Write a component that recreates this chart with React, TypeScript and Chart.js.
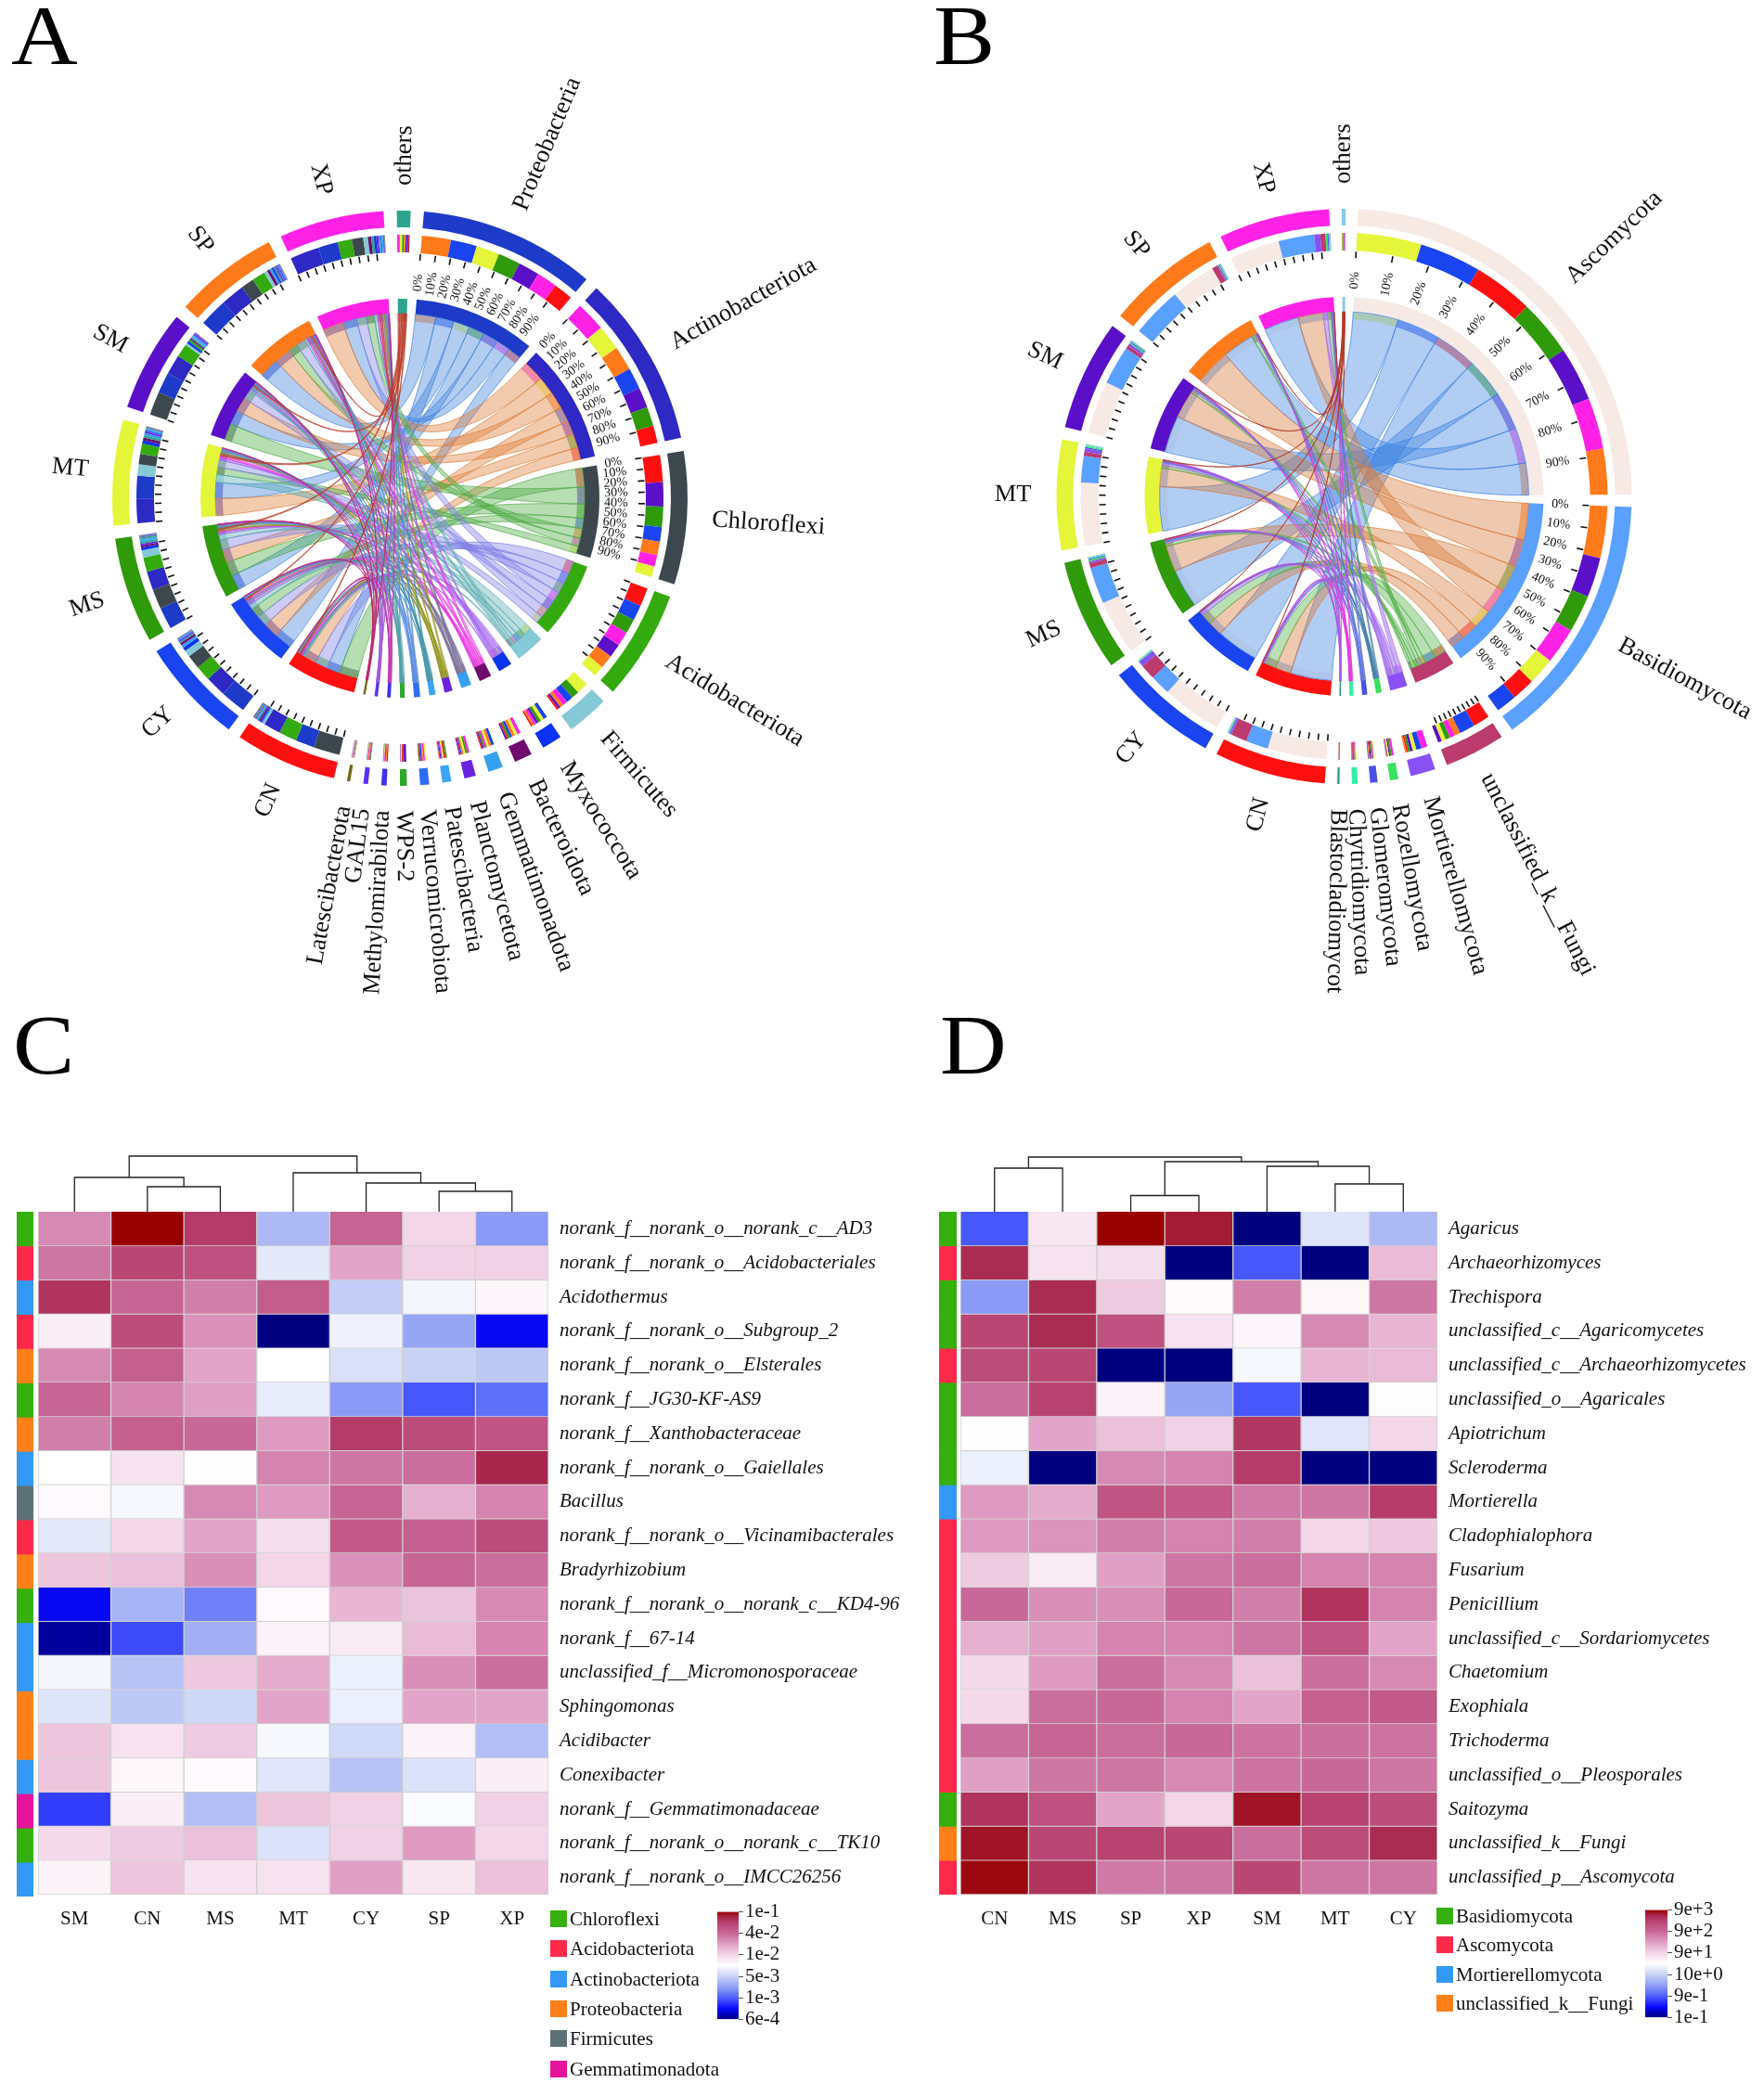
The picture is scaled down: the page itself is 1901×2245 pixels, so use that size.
import React, { useEffect, useRef } from "react";
import { Chart, registerables } from "chart.js";

Chart.register(...registerables);

const SERIF = "'Liberation Serif', serif";

// ---------- Panel A data ----------
const samples = ["CN", "CY", "MS", "MT", "SM", "SP", "XP"];
const sampleColors = ["#ff1010", "#1a44f0", "#2f9a0a", "#e4f53a", "#5a0fc8", "#ff7a1a", "#ff22e6"];

const phylaA = ["Proteobacteria", "Actinobacteriota", "Chloroflexi", "Acidobacteriota", "Firmicutes", "Myxococcota", "Bacteroidota", "Gemmatimonadota", "Planctomycetota", "Patescibacteria", "Verrucomicrobiota", "WPS-2", "Methylomirabilota", "GAL15", "Latescibacterota", "others"];
const phylaColorsA = ["#1e3ac8", "#2e28c4", "#3c484e", "#33aa0e", "#85c8d6", "#0a32f0", "#6e0a6e", "#35a0f0", "#6a24e0", "#3aa4f5", "#2f6cf5", "#2da829", "#4030f0", "#5a30f0", "#6e6a18", "#2da58e"];
const ribbonsA = ["66,130,220", "222,125,55", "75,170,65", "125,125,230", "85,170,175", "165,105,240", "235,55,225", "120,110,150", "150,150,30", "70,150,170", "90,140,225", "80,160,170", "190,60,180", "160,90,220", "190,40,110", "185,60,40"];
const abundanceA = [
  [20, 27, 23, 24, 22, 30, 21],
  [18, 22, 20, 26, 21, 25, 31],
  [28, 15, 21, 11, 25, 14, 12],
  [19, 16, 15, 11, 14, 14, 15],
  [2, 7, 8, 12, 2.5, 3.5, 5],
  [1.5, 4, 3, 3.5, 2.5, 2, 2.5],
  [1.5, 2.5, 2, 3, 1.5, 3, 3.5],
  [1.1, 3, 1.7, 2.3, 1.4, 2.5, 2],
  [1, 1.3, 2, 2, 0.9, 1.5, 2.3],
  [1.6, 0.8, 1.8, 1.4, 1, 0.7, 1.2],
  [0.8, 1.3, 0.7, 1.8, 1, 1.4, 1.5],
  [1, 0.3, 1.2, 0.7, 2.5, 0.4, 0.4],
  [1.3, 0.3, 0.4, 0.5, 0.8, 1, 0.7],
  [0.6, 0.4, 0.8, 0.6, 0.7, 0.7, 0.7],
  [0.5, 0.3, 0.5, 0.4, 0.5, 0.4, 0.4],
  [1.2, 1.4, 1.9, 2.5, 1.5, 1.7, 2.8],
];
const labeledA = ["Proteobacteria", "Actinobacteriota", "Chloroflexi"];
const tickedA = ["Acidobacteriota"];

// ---------- Panel B data ----------
const phylaB = ["Ascomycota", "Basidiomycota", "unclassified_k__Fungi", "Mortierellomycota", "Rozellomycota", "Glomeromycota", "Chytridiomycota", "Blastocladiomycot", "others"];
const phylaColorsB = ["#f7e9e4", "#5aa0ff", "#bb3b6e", "#8850f5", "#38e060", "#4a50e8", "#30f0a0", "#2a9080", "#88c8e8"];
const ribbonsB = ["60,130,225", "215,120,55", "80,175,70", "165,115,240", "70,130,170", "100,120,225", "225,60,225", "170,90,220", "175,55,40"];
const abundanceB = [
  [58, 59, 54, 62, 52, 44, 49],
  [22, 20, 36, 26, 38, 50, 35],
  [16, 15, 4.5, 4, 3.5, 5.5, 5],
  [1.5, 5, 2, 3.5, 2.5, 1.5, 6],
  [0.5, 0.5, 1.5, 1, 1.2, 0.7, 2],
  [0.8, 0.6, 1, 1.2, 1, 0.7, 1.2],
  [0.5, 0.5, 0.8, 1, 0.8, 0.5, 0.9],
  [0.3, 0.2, 0.3, 0.2, 0.3, 0.2, 0.3],
  [0.5, 0.4, 0.6, 0.6, 0.5, 0.4, 0.5],
];
const labeledB = ["Ascomycota", "Basidiomycota"];
const tickedB = ["unclassified_k__Fungi"];
const tickPercent = [0, 10, 20, 30, 40, 50, 60, 70, 80, 90];

// ---------- Panel C data ----------
const colsC = ["SM", "CN", "MS", "MT", "CY", "SP", "XP"];
const rowsC = ["norank_f__norank_o__norank_c__AD3", "norank_f__norank_o__Acidobacteriales", "Acidothermus", "norank_f__norank_o__Subgroup_2", "norank_f__norank_o__Elsterales", "norank_f__JG30-KF-AS9", "norank_f__Xanthobacteraceae", "norank_f__norank_o__Gaiellales", "Bacillus", "norank_f__norank_o__Vicinamibacterales", "Bradyrhizobium", "norank_f__norank_o__norank_c__KD4-96", "norank_f__67-14", "unclassified_f__Micromonosporaceae", "Sphingomonas", "Acidibacter", "Conexibacter", "norank_f__Gemmatimonadaceae", "norank_f__norank_o__norank_c__TK10", "norank_f__norank_o__IMCC26256"];
const levelsC = [
  [48, 100, 82, -30, 62, 20, -42],
  [55, 78, 72, -10, 38, 22, 22],
  [85, 62, 52, 66, -22, -4, 5],
  [8, 75, 45, -100, -6, -38, -82],
  [48, 65, 38, 0, -14, -20, -24],
  [62, 50, 40, -8, -42, -62, -55],
  [52, 65, 60, 42, 82, 75, 70],
  [0, 14, 1, 50, 55, 58, 90],
  [3, -3, 48, 42, 62, 34, 50],
  [-10, 20, 38, 16, 68, 64, 75],
  [26, 28, 46, 20, 45, 62, 58],
  [-82, -32, -50, 3, 32, 27, 48],
  [-95, -65, -34, 6, 10, 30, 50],
  [-4, -26, 25, 36, -7, 46, 58],
  [-12, -24, -18, 38, -7, 38, 38],
  [26, 14, 24, -3, -17, 6, -28],
  [26, 4, 3, -11, -26, -13, 8],
  [-68, 8, -28, 26, 22, -2, 22],
  [18, 24, 28, -13, 22, 42, 20],
  [6, 26, 14, 14, 40, 12, 28],
];
const groupsC = ["Chloroflexi", "Acidobacteriota", "Actinobacteriota", "Acidobacteriota", "Proteobacteria", "Chloroflexi", "Proteobacteria", "Actinobacteriota", "Firmicutes", "Acidobacteriota", "Proteobacteria", "Chloroflexi", "Actinobacteriota", "Actinobacteriota", "Proteobacteria", "Proteobacteria", "Actinobacteriota", "Gemmatimonadota", "Chloroflexi", "Actinobacteriota"];
const legendC = ["Chloroflexi", "Acidobacteriota", "Actinobacteriota", "Proteobacteria", "Firmicutes", "Gemmatimonadota"];
const barTicksC = ["1e-1", "4e-2", "1e-2", "5e-3", "1e-3", "6e-4"];
const dendroC: [number | string, number | string, number][] = [
  [5, 6, 22], [4, "n0", 31], [3, "n1", 42], [1, 2, 27], [0, "n3", 37], ["n4", "n2", 60],
];

// ---------- Panel D data ----------
const colsD = ["CN", "MS", "SP", "XP", "SM", "MT", "CY"];
const rowsD = ["Agaricus", "Archaeorhizomyces", "Trechispora", "unclassified_c__Agaricomycetes", "unclassified_c__Archaeorhizomycetes", "unclassified_o__Agaricales", "Apiotrichum", "Scleroderma", "Mortierella", "Cladophialophora", "Fusarium", "Penicillium", "unclassified_c__Sordariomycetes", "Chaetomium", "Exophiala", "Trichoderma", "unclassified_o__Pleosporales", "Saitozyma", "unclassified_k__Fungi", "unclassified_p__Ascomycota"];
const levelsD = [
  [-62, 12, 100, 93, -100, -12, -30],
  [88, 14, 16, -100, -62, -100, 30],
  [-42, 88, 24, 2, 52, 4, 55],
  [78, 88, 72, 14, 5, 48, 32],
  [75, 78, -100, -100, -3, 32, 30],
  [58, 80, 6, -38, -62, -100, 1],
  [1, 38, 28, 22, 84, -11, 20],
  [-7, -100, 48, 50, 82, -100, -100],
  [42, 36, 70, 68, 54, 55, 82],
  [42, 44, 52, 50, 52, 20, 25],
  [24, 10, 40, 55, 58, 50, 50],
  [60, 46, 46, 60, 52, 85, 50],
  [34, 40, 50, 50, 55, 70, 38],
  [18, 42, 58, 48, 28, 58, 48],
  [18, 58, 60, 50, 38, 65, 68],
  [58, 62, 58, 60, 56, 58, 56],
  [40, 55, 55, 48, 56, 60, 55],
  [85, 72, 38, 20, 95, 80, 75],
  [95, 78, 80, 78, 58, 75, 88],
  [98, 85, 54, 55, 78, 55, 55],
];
const groupsD = ["Basidiomycota", "Ascomycota", "Basidiomycota", "Basidiomycota", "Ascomycota", "Basidiomycota", "Basidiomycota", "Basidiomycota", "Mortierellomycota", "Ascomycota", "Ascomycota", "Ascomycota", "Ascomycota", "Ascomycota", "Ascomycota", "Ascomycota", "Ascomycota", "Basidiomycota", "unclassified_k__Fungi", "Ascomycota"];
const legendD = ["Basidiomycota", "Ascomycota", "Mortierellomycota", "unclassified_k__Fungi"];
const barTicksD = ["9e+3", "9e+2", "9e+1", "10e+0", "9e-1", "1e-1"];
const dendroD: [number | string, number | string, number][] = [
  [0, 1, 47], [2, 3, 17.5], [5, 6, 30], [4, "n2", 49], ["n1", "n3", 54], ["n0", "n4", 59],
];

const groupColor: Record<string, string> = {
  Chloroflexi: "#35b00e", Acidobacteriota: "#ff2a4a", Actinobacteriota: "#3399f5", Proteobacteria: "#ff7f18",
  Firmicutes: "#5e7078", Gemmatimonadota: "#e6149a", Basidiomycota: "#35b00e", Ascomycota: "#ff2a4a",
  Mortierellomycota: "#3399f5", unclassified_k__Fungi: "#ff7f18",
};

const rampStops: [number, number[]][] = [
  [-100, [0, 0, 127]], [-90, [0, 0, 190]], [-80, [10, 10, 255]], [-60, [78, 96, 250]], [-40, [145, 160, 245]], [-20, [200, 210, 245]],
  [0, [255, 255, 255]], [20, [243, 214, 232]], [40, [224, 160, 197]], [60, [200, 104, 152]], [80, [184, 66, 112]], [90, [168, 38, 76]], [100, [153, 0, 0]],
];
function rampColor(v: number) {
  for (let i = 1; i < rampStops.length; i++) {
    const [a, ca] = rampStops[i - 1];
    const [b, cb] = rampStops[i];
    if (v <= b) {
      const t = (v - a) / (b - a);
      return `rgb(${ca.map((c, k) => Math.round(c + (cb[k] - c) * t)).join(",")})`;
    }
  }
  return "rgb(153,0,0)";
}

const CLEAR = "rgba(0,0,0,0)";
const sum = (a: number[]) => a.reduce((x, y) => x + y, 0);

function makeChord(canvas: HTMLCanvasElement, p: any) {
  const { phyla, phylaColors, ribbons, abundance, labeled, ticked, rotation, gapDeg, sampleScale } = p;
  type Seg = { value: number; partner: string; color: string; phylum: number; sample: number };
  type Sec = { name: string; color: string; segs: Seg[]; total: number };
  const mk = (i: number): Sec => {
    const segs = samples.map((s, j) => ({ value: abundance[i][j], partner: s, color: sampleColors[j], phylum: i, sample: j }))
      .sort((a, b) => b.value - a.value);
    return { name: phyla[i], color: phylaColors[i], segs, total: sum(abundance[i]) };
  };
  const secs: Sec[] = [];
  for (let i = 0; i < phyla.length - 1; i++) secs.push(mk(i));
  samples.forEach((s, j) => {
    const segs = phyla.map((n: string, i: number) => ({ value: abundance[i][j] * sampleScale, partner: n, color: phylaColors[i], phylum: i, sample: j }))
      .sort((a: Seg, b: Seg) => b.value - a.value);
    secs.push({ name: s, color: sampleColors[j], segs, total: sum(segs.map((x: Seg) => x.value)) });
  });
  secs.push(mk(phyla.length - 1));

  const grand = sum(secs.map((s) => s.total));
  const gap = (grand / (360 - secs.length * gapDeg)) * gapDeg;

  const outerData: number[] = [], outerBg: string[] = [];
  const compData: number[] = [], compBg: string[] = [], thinBg: string[] = [];
  const secRange: number[][] = [];
  const linkIdx: Record<string, number[]> = {};
  secs.forEach((s) => {
    outerData.push(s.total, gap);
    outerBg.push(s.color, CLEAR);
    const first = compData.length;
    s.segs.forEach((g) => {
      const key = g.phylum + "|" + g.sample;
      (linkIdx[key] = linkIdx[key] || []).push(compData.length);
      compData.push(g.value);
      compBg.push(g.color);
      thinBg.push(g.color + "80");
    });
    secRange.push([first, compData.length - 1]);
    compData.push(gap);
    compBg.push(CLEAR);
    thinBg.push(CLEAR);
  });

  const overlay = {
    id: "chordOverlay",
    afterDatasetsDraw(chart: any) {
      const ctx = chart.ctx;
      const thin = chart.getDatasetMeta(5).data;
      const comp = chart.getDatasetMeta(2).data;
      const outer = chart.getDatasetMeta(0).data;
      const cx = thin[0].x, cy = thin[0].y;
      const rR = thin[0].outerRadius;
      const k = 0.3;
      const pt = (a: number, r: number) => [cx + Math.cos(a) * r, cy + Math.sin(a) * r];
      ctx.save();
      abundance.forEach((row: number[], i: number) => {
        const small = sum(row) < 30;
        row.forEach((_: number, j: number) => {
          const [ai, bi] = linkIdx[i + "|" + j];
          const a = thin[ai], b = thin[bi];
          const a1 = a.startAngle, a2 = a.endAngle, b1 = b.startAngle, b2 = b.endAngle;
          const pA2 = pt(a2, rR), pB1 = pt(b1, rR), pA1 = pt(a1, rR);
          const cA2 = pt(a2, rR * k), cB1 = pt(b1, rR * k), cB2 = pt(b2, rR * k), cA1 = pt(a1, rR * k);
          ctx.beginPath();
          ctx.moveTo(pA1[0], pA1[1]);
          ctx.arc(cx, cy, rR, a1, a2);
          ctx.bezierCurveTo(cA2[0], cA2[1], cB1[0], cB1[1], pB1[0], pB1[1]);
          ctx.arc(cx, cy, rR, b1, b2);
          ctx.bezierCurveTo(cB2[0], cB2[1], cA1[0], cA1[1], pA1[0], pA1[1]);
          ctx.closePath();
          ctx.fillStyle = `rgba(${ribbons[i]},${small ? 0.55 : 0.4})`;
          ctx.fill();
          ctx.lineWidth = 1;
          ctx.strokeStyle = `rgba(${ribbons[i]},0.7)`;
          ctx.stroke();
        });
      });
      // ticks and labels
      const rTickOut = comp[0].innerRadius - 1;
      secs.forEach((s, si) => {
        const [f, l] = secRange[si];
        const st = comp[f].startAngle, en = comp[l].endAngle;
        const isSample = samples.includes(s.name);
        const isLabeled = labeled.includes(s.name);
        if (isSample || isLabeled || ticked.includes(s.name)) {
          tickPercent.forEach((pc) => {
            const ang = st + ((en - st) * pc) / 100;
            const p1 = pt(ang, rTickOut), p2 = pt(ang, rTickOut - 7);
            ctx.beginPath();
            ctx.moveTo(p1[0], p1[1]);
            ctx.lineTo(p2[0], p2[1]);
            ctx.strokeStyle = "#111";
            ctx.lineWidth = 1.6;
            ctx.stroke();
            if (isLabeled) {
              const q = pt(ang, 233);
              ctx.save();
              ctx.translate(q[0], q[1]);
              ctx.rotate(ang);
              ctx.fillStyle = "#111";
              ctx.font = `14px ${SERIF}`;
              ctx.textAlign = "center";
              ctx.textBaseline = "middle";
              ctx.fillText(pc + "%", 0, 0);
              ctx.restore();
            }
          });
        }
        const mid = (outer[si * 2].startAngle + outer[si * 2].endAngle) / 2;
        const clock = (((mid + Math.PI / 2) * 180) / Math.PI + 720) % 360;
        const flip = clock >= 182 && clock < 359.5;
        const q = pt(mid, 337);
        ctx.save();
        ctx.translate(q[0], q[1]);
        ctx.rotate(flip ? mid + Math.PI : mid);
        ctx.fillStyle = "#111";
        ctx.font = `26.5px ${SERIF}`;
        ctx.textAlign = flip ? "right" : "left";
        ctx.textBaseline = "middle";
        ctx.fillText(s.name, 0, 0);
        ctx.restore();
      });
      ctx.restore();
    },
  };

  return new Chart(canvas, {
    type: "doughnut",
    data: {
      datasets: [
        { data: outerData, backgroundColor: outerBg, weight: 18 },
        { data: [1], backgroundColor: [CLEAR], weight: 8 },
        { data: compData, backgroundColor: compBg, weight: 19 },
        { data: [1], backgroundColor: [CLEAR], weight: 50 },
        { data: outerData, backgroundColor: outerBg, weight: 16 },
        { data: compData, backgroundColor: thinBg, weight: 8 },
      ] as any,
    },
    options: {
      animation: false,
      responsive: false,
      maintainAspectRatio: false,
      events: [],
      rotation,
      radius: 310,
      cutout: `${(191 / 310) * 100}%`,
      borderWidth: 0,
      layout: { padding: 0 },
      plugins: { legend: { display: false }, tooltip: { enabled: false } },
    } as any,
    plugins: [overlay],
  });
}

function makeHeat(canvas: HTMLCanvasElement, p: any) {
  const { cols, rows, levels, dendro, yWidth } = p;
  const dendroPlugin = {
    id: "dendro",
    afterDatasetsDraw(chart: any) {
      const ctx = chart.ctx;
      const x = chart.scales.x;
      const base = chart.chartArea.top;
      const nodes: { x: number; h: number }[] = [];
      const res = (r: number | string) => (typeof r === "string" ? nodes[+r.slice(1)] : { x: x.getPixelForValue(r), h: 0 });
      ctx.save();
      ctx.strokeStyle = "#222";
      ctx.lineWidth = 1.3;
      dendro.forEach(([a, b, h]: any) => {
        const A = res(a), B = res(b);
        ctx.beginPath();
        ctx.moveTo(A.x, base - A.h);
        ctx.lineTo(A.x, base - h);
        ctx.lineTo(B.x, base - h);
        ctx.lineTo(B.x, base - B.h);
        ctx.stroke();
        nodes.push({ x: (A.x + B.x) / 2, h });
      });
      ctx.restore();
    },
  };
  return new Chart(canvas, {
    type: "bar",
    data: {
      labels: cols,
      datasets: rows.map((_: string, r: number) => ({
        data: cols.map(() => [r, r + 1]),
        backgroundColor: levels[r].map(rampColor),
        borderColor: "#cfcfcf",
        borderWidth: 1,
        grouped: false,
        barPercentage: 1,
        categoryPercentage: 1,
      })),
    },
    options: {
      animation: false,
      responsive: false,
      maintainAspectRatio: false,
      events: [],
      layout: { padding: { top: 62, left: 0, right: 0, bottom: 0 } },
      plugins: { legend: { display: false }, tooltip: { enabled: false } },
      scales: {
        x: {
          stacked: false,
          grid: { display: false },
          border: { display: false },
          ticks: { color: "#111", font: { family: SERIF, size: 21 }, padding: 6, maxRotation: 0 },
          afterFit(s: any) { s.height = 40; },
        },
        y: {
          type: "linear",
          position: "right",
          min: 0,
          max: rows.length,
          reverse: true,
          grid: { display: false, drawTicks: false },
          border: { display: false },
          afterBuildTicks(s: any) { s.ticks = rows.map((_: string, i: number) => ({ value: i + 0.5 })); },
          afterFit(s: any) { s.width = yWidth; },
          ticks: {
            autoSkip: false,
            color: "#111",
            padding: 12,
            font: { family: SERIF, size: 21, style: "italic" },
            callback: (v: number) => rows[Math.floor(v)],
          },
        },
      },
    } as any,
    plugins: [dendroPlugin],
  });
}

function makeAnno(canvas: HTMLCanvasElement, groups: string[]) {
  return new Chart(canvas, {
    type: "bar",
    data: {
      labels: [""],
      datasets: groups.map((g, r) => ({
        data: [[r, r + 1]],
        backgroundColor: groupColor[g],
        borderWidth: 0,
        grouped: false,
        barPercentage: 1,
        categoryPercentage: 1,
      })),
    } as any,
    options: {
      animation: false,
      responsive: false,
      maintainAspectRatio: false,
      events: [],
      plugins: { legend: { display: false }, tooltip: { enabled: false } },
      scales: {
        x: { display: false },
        y: { display: false, min: 0, max: groups.length, reverse: true },
      },
    } as any,
  });
}

function makeBar(canvas: HTMLCanvasElement, labels: string[]) {
  const n = labels.length - 1;
  return new Chart(canvas, {
    type: "bar",
    data: {
      labels: [""],
      datasets: [{
        data: [[0, n]],
        borderWidth: 0,
        barPercentage: 1,
        categoryPercentage: 1,
        backgroundColor: (c: any) => {
          const area = c.chart.chartArea;
          if (!area) return "#fff";
          const g = c.chart.ctx.createLinearGradient(0, area.bottom, 0, area.top);
          rampStops.forEach(([v]) => g.addColorStop((v + 100) / 200, rampColor(v)));
          return g;
        },
      }],
    } as any,
    options: {
      animation: false,
      responsive: false,
      maintainAspectRatio: false,
      events: [],
      layout: { padding: { top: 14, bottom: 14, left: 0, right: 0 } },
      plugins: { legend: { display: false }, tooltip: { enabled: false } },
      scales: {
        x: { display: false },
        y: {
          type: "linear",
          position: "right",
          min: 0,
          max: n,
          grid: { drawOnChartArea: false, drawTicks: true, tickLength: 5, color: "#555" },
          border: { display: false },
          afterBuildTicks(s: any) { s.ticks = labels.map((_, i) => ({ value: i })); },
          afterFit(s: any) { s.width = 62; },
          ticks: {
            autoSkip: false,
            color: "#111",
            padding: 2,
            font: { family: SERIF, size: 21 },
            callback: (v: number) => labels[n - v],
          },
        },
      },
    } as any,
  });
}

const abs = (left: number, top: number): React.CSSProperties => ({ position: "absolute", left, top });

function Legend({ names, x, ys }: { names: string[]; x: number; ys: number[] }) {
  return (
    <>
      {names.map((n, i) => (
        <div key={n} style={{ ...abs(x, ys[i] - 9), width: 18, height: 18, background: groupColor[n] }}>
          <span style={{ position: "absolute", left: 21, top: -3, fontSize: 21, lineHeight: "24px", whiteSpace: "nowrap", fontFamily: SERIF, color: "#111" }}>{n}</span>
        </div>
      ))}
    </>
  );
}

export default function App() {
  const a = useRef<HTMLCanvasElement>(null);
  const b = useRef<HTMLCanvasElement>(null);
  const c = useRef<HTMLCanvasElement>(null);
  const d = useRef<HTMLCanvasElement>(null);
  const ca = useRef<HTMLCanvasElement>(null);
  const da = useRef<HTMLCanvasElement>(null);
  const cb = useRef<HTMLCanvasElement>(null);
  const db = useRef<HTMLCanvasElement>(null);

  useEffect(() => {
    const charts = [
      makeChord(a.current!, { phyla: phylaA, phylaColors: phylaColorsA, ribbons: ribbonsA, abundance: abundanceA, labeled: labeledA, ticked: tickedA, rotation: 4.8, gapDeg: 2.65, sampleScale: 0.974 }),
      makeChord(b.current!, { phyla: phylaB, phylaColors: phylaColorsB, ribbons: ribbonsB, abundance: abundanceB, labeled: labeledB, ticked: tickedB, rotation: 2.8, gapDeg: 2.5, sampleScale: 0.977 }),
      makeHeat(c.current!, { cols: colsC, rows: rowsC, levels: levelsC, dendro: dendroC, yWidth: 399 }),
      makeHeat(d.current!, { cols: colsD, rows: rowsD, levels: levelsD, dendro: dendroD, yWidth: 352 }),
      makeAnno(ca.current!, groupsC),
      makeAnno(da.current!, groupsD),
      makeBar(cb.current!, barTicksC),
      makeBar(db.current!, barTicksD),
    ];
    return () => charts.forEach((x) => x.destroy());
  }, []);

  const letter = (t: string, x: number, y: number) => (
    <div style={{ ...abs(x, y), fontFamily: SERIF, fontSize: 92, lineHeight: "92px", color: "#000", transform: "scaleX(1.08)", transformOrigin: "0 0" }}>{t}</div>
  );

  return (
    <div style={{ position: "absolute", left: 0, top: 0, width: 1901, height: 2245, overflow: "hidden", background: "#fff" }}>
      <canvas ref={a} width={920} height={1100} style={abs(-29, -13)} />
      <canvas ref={b} width={905} height={1100} style={abs(996, -15)} />
      <canvas ref={c} width={949} height={838} style={abs(41, 1244)} />
      <canvas ref={d} width={866} height={838} style={abs(1035, 1244)} />
      <canvas ref={ca} width={18} height={738} style={abs(18, 1306)} />
      <canvas ref={da} width={19} height={736} style={abs(1012, 1306)} />
      <canvas ref={cb} width={85} height={145} style={abs(773, 2046)} />
      <canvas ref={db} width={86} height={145} style={abs(1773, 2044)} />
      {letter("A", 12, -8)}
      {letter("B", 1006, -8)}
      {letter("C", 14, 1080)}
      {letter("D", 1013, 1080)}
      <Legend names={legendC} x={593} ys={[2068, 2100, 2133, 2165, 2197, 2230]} />
      <Legend names={legendD} x={1548} ys={[2065, 2096, 2128, 2159]} />
    </div>
  );
}
